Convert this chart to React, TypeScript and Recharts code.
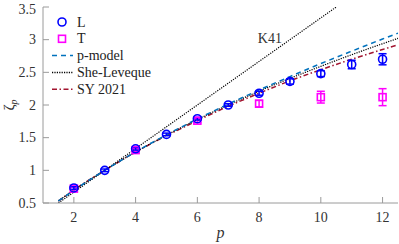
import {
  ComposedChart,
  Line,
  Scatter,
  ErrorBar,
  XAxis,
  YAxis,
  Legend,
  ReferenceDot,
  Label,
} from 'recharts';

// measured points
const P_L = [2, 3, 4, 5, 6, 7, 8, 9, 10, 11, 12];
const ZETA_L = [0.73, 1.0, 1.33, 1.55, 1.79, 2.0, 2.18, 2.36, 2.48, 2.62, 2.7];
const ERR_L = [0.02, 0.02, 0.02, 0.02, 0.02, 0.02, 0.03, 0.04, 0.045, 0.065, 0.085];

const P_T = [2, 4, 6, 8, 10, 12];
const ZETA_T = [0.72, 1.31, 1.76, 2.02, 2.12, 2.12];
const ERR_T = [0.02, 0.02, 0.03, 0.05, 0.09, 0.13];

// model curves
const P_CURVE = [1.5, 2, 3, 4, 5, 6, 7, 8, 9, 10, 11, 12, 12.5];
const PMODEL = [0.53, 0.694, 1.0, 1.282, 1.544, 1.786, 2.014, 2.229, 2.435, 2.634, 2.824, 3.01, 3.1];
const SHE_LEVEQUE = [0.534, 0.696, 1.0, 1.28, 1.538, 1.778, 2.001, 2.211, 2.407, 2.592, 2.77, 2.938, 3.02];
const SY2021 = [0.53, 0.7, 1.0, 1.28, 1.53, 1.76, 1.98, 2.18, 2.37, 2.54, 2.7, 2.85, 2.92];

const P_K41 = [1.5, 10.5];
const K41 = [0.5, 3.5];

const X_TICKS = [2, 4, 6, 8, 10, 12];
const Y_TICKS = [0.5, 1, 1.5, 2, 2.5, 3, 3.5];

const dataL = P_L.map((p, i) => ({ p, v: ZETA_L[i], err: ERR_L[i] }));
const dataT = P_T.map((p, i) => ({ p, v: ZETA_T[i], err: ERR_T[i] }));
const curve = (ys: number[]) => P_CURVE.map((p, i) => ({ p, v: ys[i] }));
const dataK41 = P_K41.map((p, i) => ({ p, v: K41[i] }));

const FONT = "'Liberation Serif', 'DejaVu Serif', serif";
const AXIS = '#9a9a9a';
const TEXT = '#333';

const BLUE = '#0000ff';
const MAGENTA = '#ff00ff';
const PBLUE = '#0072bd';
const RED = '#a2142f';

const CircleMark = (props: any) => (
  <circle cx={props.cx} cy={props.cy} r={4} fill="none" stroke={BLUE} strokeWidth={1.6} />
);
const SquareMark = (props: any) => (
  <rect x={props.cx - 3.5} y={props.cy - 3.5} width={7} height={7} fill="none" stroke={MAGENTA} strokeWidth={1.6} />
);

const XTick = (props: any) => (
  <text x={props.x} y={props.y + 9} textAnchor="middle" style={{ fontFamily: FONT, fontSize: 14 }} fill={TEXT}>
    {props.payload.value}
  </text>
);
const YTick = (props: any) => (
  <text x={props.x} y={props.y + 4.5} textAnchor="end" style={{ fontFamily: FONT, fontSize: 14 }} fill={TEXT}>
    {props.payload.value}
  </text>
);

const legendItems = [
  { name: 'L', kind: 'circle' },
  { name: 'T', kind: 'square' },
  { name: 'p-model', kind: 'line', stroke: PBLUE, dash: '5 4' },
  { name: 'She-Leveque', kind: 'line', stroke: '#000', dash: '1.2 1.2' },
  { name: 'SY 2021', kind: 'line', stroke: RED, dash: '5 2.5 1.5 2.5' },
];

function renderLegend() {
  return (
    <svg width={130} height={90} style={{ display: 'block' }}>
      {legendItems.map((it, i) => {
        const y = 9 + i * 16.8;
        return (
          <g key={it.name}>
            {it.kind === 'circle' && <circle cx={14} cy={y} r={4} fill="none" stroke={BLUE} strokeWidth={1.6} />}
            {it.kind === 'square' && (
              <rect x={10.5} y={y - 3.5} width={7} height={7} fill="none" stroke={MAGENTA} strokeWidth={1.6} />
            )}
            {it.kind === 'line' && (
              <line x1={4} x2={25} y1={y} y2={y} stroke={it.stroke} strokeWidth={1.5} strokeDasharray={it.dash} />
            )}
            <text x={29} y={y + 4.5} style={{ fontFamily: FONT, fontSize: 14 }} fill="#222">
              {it.name}
            </text>
          </g>
        );
      })}
    </svg>
  );
}

const YTitle = (props: any) => {
  const vb = props.viewBox;
  const x = vb.x + 14;
  const y = vb.y + vb.height / 2;
  return (
    <text x={x} y={y} transform={`rotate(-90, ${x}, ${y})`} textAnchor="middle" style={{ fontFamily: FONT, fontSize: 15 }} fill={TEXT}>
      ζ
      <tspan style={{ fontSize: 10, fontStyle: 'italic' }} dy={3}>
        p
      </tspan>
    </text>
  );
};

const XTitle = (props: any) => {
  const vb = props.viewBox;
  return (
    <text x={vb.x + vb.width / 2} y={vb.y + 35} textAnchor="middle" style={{ fontFamily: FONT, fontSize: 16, fontStyle: 'italic' }} fill={TEXT}>
      p
    </text>
  );
};

const K41Label = (props: any) => {
  const vb = props.viewBox;
  return (
    <text x={vb.x} y={vb.y + 5} textAnchor="middle" style={{ fontFamily: FONT, fontSize: 14 }} fill={TEXT}>
      K41
    </text>
  );
};

export default function App() {
  return (
    <div style={{ position: 'absolute', left: 0, top: 0 }}>
      <ComposedChart width={399} height={244} margin={{ top: 7, right: 1, left: 0, bottom: 0 }}>
        <XAxis
          xAxisId="b"
          type="number"
          dataKey="p"
          domain={[1, 12.5]}
          ticks={X_TICKS}
          allowDataOverflow
          height={41}
          stroke={AXIS}
          tickSize={-6}
          tickMargin={16}
          tick={XTick}
          label={<Label content={XTitle} />}
        />
        <XAxis
          xAxisId="t"
          orientation="top"
          type="number"
          dataKey="p"
          domain={[1, 12.5]}
          ticks={X_TICKS}
          allowDataOverflow
          height={0}
          stroke={AXIS}
          tickSize={-6}
          tickFormatter={() => ''}
        />
        <YAxis
          yAxisId="l"
          type="number"
          domain={[0.5, 3.5]}
          ticks={Y_TICKS}
          allowDataOverflow
          width={43}
          stroke={AXIS}
          tickSize={-6}
          tickMargin={13}
          tick={YTick}
          label={<Label content={YTitle} />}
        />
        <YAxis
          yAxisId="r"
          orientation="right"
          type="number"
          domain={[0.5, 3.5]}
          ticks={Y_TICKS}
          allowDataOverflow
          width={0}
          stroke={AXIS}
          tickSize={-6}
          tickFormatter={() => ''}
        />
        <Line xAxisId="b" yAxisId="l" data={dataK41} dataKey="v" stroke="#000" strokeWidth={1.2} strokeDasharray="1.2 1.2" dot={false} isAnimationActive={false} />
        <Line xAxisId="b" yAxisId="l" data={curve(SY2021)} dataKey="v" stroke={RED} strokeWidth={1.5} strokeDasharray="5 2.5 1.5 2.5" dot={false} type="monotone" isAnimationActive={false} />
        <Line xAxisId="b" yAxisId="l" data={curve(SHE_LEVEQUE)} dataKey="v" stroke="#000" strokeWidth={1.2} strokeDasharray="1.2 1.2" dot={false} type="monotone" isAnimationActive={false} />
        <Line xAxisId="b" yAxisId="l" data={curve(PMODEL)} dataKey="v" stroke={PBLUE} strokeWidth={1.5} strokeDasharray="5 4" dot={false} type="monotone" isAnimationActive={false} />
        <Scatter xAxisId="b" yAxisId="l" data={dataT} dataKey="v" shape={SquareMark} isAnimationActive={false}>
          <ErrorBar dataKey="err" direction="y" width={4} stroke={MAGENTA} strokeWidth={1.5} />
        </Scatter>
        <Scatter xAxisId="b" yAxisId="l" data={dataL} dataKey="v" shape={CircleMark} isAnimationActive={false}>
          <ErrorBar dataKey="err" direction="y" width={4} stroke={BLUE} strokeWidth={1.5} />
        </Scatter>
        <ReferenceDot
          xAxisId="b"
          yAxisId="l"
          x={8.35}
          y={3.02}
          r={0}
          ifOverflow="visible"
          label={<Label content={K41Label} />}
        />
        <Legend
          layout="vertical"
          align="center"
          verticalAlign="middle"
          content={renderLegend}
          wrapperStyle={{ left: 48, top: 13, width: 130, height: 90 }}
        />
      </ComposedChart>
    </div>
  );
}
